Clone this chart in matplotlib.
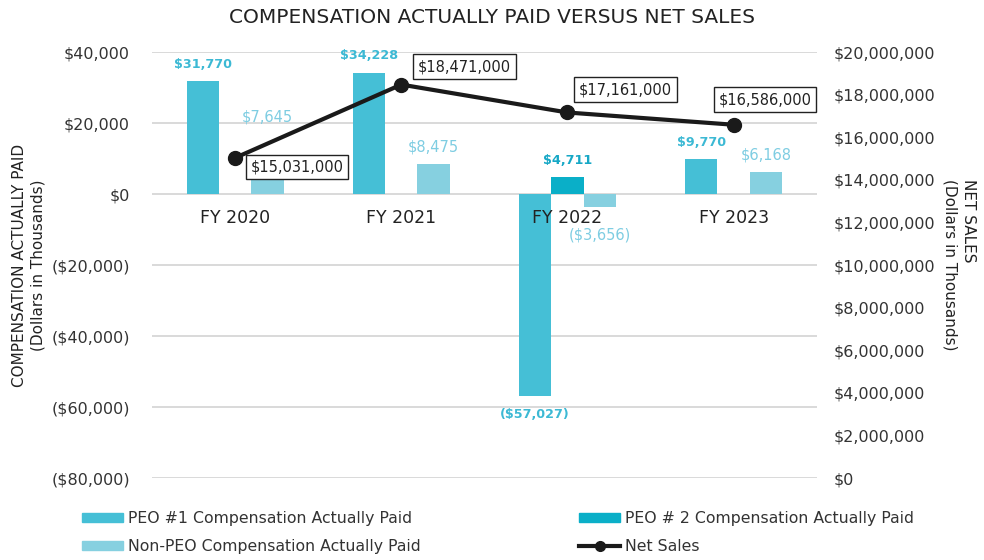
import numpy as np
import matplotlib
matplotlib.use("Agg")
import matplotlib.pyplot as plt
from matplotlib.ticker import FuncFormatter, MultipleLocator
from matplotlib.lines import Line2D
from matplotlib.patches import Patch

years = ["FY 2020", "FY 2021", "FY 2022", "FY 2023"]
peo1_cap = [31770, 34228, -57027, 9770]
peo2_cap = [None, None, 4711, None]
non_peo_cap = [7645, 8475, -3656, 6168]
net_sales = [15031000, 18471000, 17161000, 16586000]

PEO1_COLOR = "#45bfd6"
PEO2_COLOR = "#0aafc8"
NON_PEO_COLOR = "#86d0e0"
PEO1_TEXT = "#3cb9d4"
PEO2_TEXT = "#17a8c6"
NON_PEO_TEXT = "#7ecde2"
DARK = "#222222"

plt.rcParams["font.family"] = ["DejaVu Sans"]


def money(v):
    return f"(${abs(v):,.0f})" if v < 0 else f"${v:,.0f}"


fig = plt.figure(figsize=(9.84, 5.6), dpi=100)
ax = fig.add_axes([0.1545, 0.1464, 0.6755, 0.7607])
ax2 = ax.twinx()

x = np.arange(len(years))
w = 0.195


def bar_labels(xs, vals, color, weight, size, raise_pts=None):
    raise_pts = raise_pts or {}
    for i, (xi, v) in enumerate(zip(xs, vals)):
        if v is None:
            continue
        dy = raise_pts.get(i, 12 if v >= 0 else -13)
        ax.annotate(money(v), (xi, v), xytext=(0, dy), textcoords="offset points",
                    ha="center", va="center", color=color, fontsize=size,
                    fontweight=weight)


# three bars per year: PEO #1, PEO #2 (only FY 2022), non-PEO
ax.bar(x - w, peo1_cap, w, color=PEO1_COLOR, zorder=2)
peo2_x = [xi for xi, v in zip(x, peo2_cap) if v is not None]
peo2_v = [v for v in peo2_cap if v is not None]
ax.bar(peo2_x, peo2_v, w, color=PEO2_COLOR, zorder=2)
ax.bar(x + w, non_peo_cap, w, color=NON_PEO_COLOR, zorder=2)

bar_labels(x - w, peo1_cap, PEO1_TEXT, "bold", 9.2)
bar_labels(x, peo2_cap, PEO2_TEXT, "bold", 9.2)
# first non-PEO label sits higher so it clears the net sales box,
# the negative one drops below the year label
bar_labels(x + w, non_peo_cap, NON_PEO_TEXT, "normal", 10.5,
           raise_pts={0: 36, 2: -20})

for xi, lab in zip(x, years):
    ax.annotate(lab, (xi, 0), xytext=(0, -17), textcoords="offset points",
                ha="center", va="center", fontsize=12.5, color=DARK, zorder=5)

ax.set_xlim(-0.5, len(years) - 0.5)
ax.set_ylim(-80000, 40000)
ax.yaxis.set_major_locator(MultipleLocator(20000))
ax.yaxis.set_major_formatter(FuncFormatter(lambda v, _: money(v)))
ax.grid(axis="y", color="#d9d9d9", linewidth=1.4, zorder=0)
ax.set_axisbelow(True)
ax.set_xticks([])
ax.tick_params(axis="y", length=0, pad=16, labelsize=11.5, labelcolor="#333333")
for s in ax.spines.values():
    s.set_visible(False)
ax.set_ylabel("COMPENSATION ACTUALLY PAID\n(Dollars in Thousands)", fontsize=11,
              color=DARK, labelpad=4, linespacing=1.3)

# net sales line on the right axis
ax2.plot(x, net_sales, color="#1a1a1a", linewidth=3, marker="o", markersize=10,
         zorder=4)
box_offsets = [(11, -6.5), (12, 13), (8, 16.5), (-11, 18)]
for xi, v, off in zip(x, net_sales, box_offsets):
    ax2.annotate(money(v), (xi, v), xytext=off, textcoords="offset points",
                 ha="left", va="center", fontsize=10.5, color=DARK,
                 bbox=dict(boxstyle="square,pad=0.33", fc="white", ec="#222222",
                           lw=1))
ax2.set_ylim(0, 20000000)
ax2.yaxis.set_major_locator(MultipleLocator(2000000))
ax2.yaxis.set_major_formatter(FuncFormatter(lambda v, _: money(v)))
ax2.tick_params(axis="y", length=0, pad=12, labelsize=11.5, labelcolor="#333333")
for s in ax2.spines.values():
    s.set_visible(False)
ax2.set_ylabel("NET SALES\n(Dollars in Thousands)", fontsize=11, color=DARK,
               rotation=270, labelpad=29.5, linespacing=1.3, multialignment="left")

fig.suptitle("COMPENSATION ACTUALLY PAID VERSUS NET SALES", fontsize=14.5,
             color=DARK, y=0.985)

handles = [
    Patch(color=PEO1_COLOR, label="PEO #1 Compensation Actually Paid"),
    Patch(color=NON_PEO_COLOR, label="Non-PEO Compensation Actually Paid"),
    Patch(color=PEO2_COLOR, label="PEO # 2 Compensation Actually Paid"),
    Line2D([], [], color="#1a1a1a", linewidth=3, marker="o", markersize=7,
           label="Net Sales"),
]
fig.legend(handles=handles, loc="upper center", bbox_to_anchor=(0.506, 0.1125),
           ncol=2, frameon=False, fontsize=11.3, handlelength=2.6,
           handleheight=0.5, handletextpad=0.3, columnspacing=10.15,
           labelspacing=0.8, labelcolor="#333333")

fig.savefig("out.png", dpi=100)
